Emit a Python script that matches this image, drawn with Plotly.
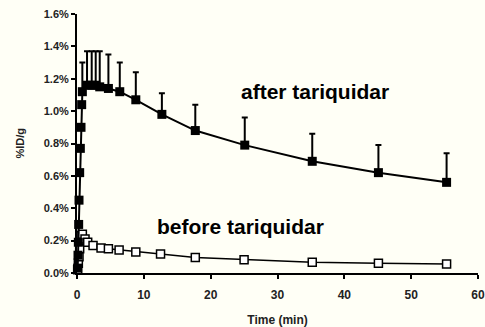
import plotly.graph_objects as go

# After tariquidar (filled squares), %ID/g
after_t = [0.1, 0.15, 0.2, 0.25, 0.3, 0.4, 0.5, 0.6, 0.7, 0.8, 1.5, 2.2, 2.8, 3.4, 4.7, 6.4, 8.8, 12.7, 17.7, 25.1, 35.2, 45.1, 55.3]
after_v = [0.03, 0.11, 0.19, 0.30, 0.45, 0.62, 0.77, 0.90, 1.04, 1.12, 1.16, 1.16, 1.16, 1.15, 1.14, 1.12, 1.07, 0.98, 0.88, 0.79, 0.69, 0.62, 0.56]
after_err = [0, 0, 0, 0, 0, 0, 0, 0, 0, 0.18, 0.21, 0.21, 0.21, 0.22, 0.21, 0.18, 0.17, 0.13, 0.16, 0.17, 0.17, 0.17, 0.18]

# Before tariquidar (open squares)
before_t = [0.1, 0.2, 0.3, 0.4, 0.5, 0.6, 0.8, 1.2, 1.6, 2.4, 3.6, 4.7, 6.3, 8.8, 12.5, 17.7, 25.0, 35.2, 45.1, 55.3]
before_v = [0.02, 0.06, 0.10, 0.15, 0.20, 0.23, 0.24, 0.21, 0.19, 0.17, 0.155, 0.150, 0.142, 0.13, 0.117, 0.096, 0.082, 0.066, 0.060, 0.056]

y_ticks = [0.0, 0.2, 0.4, 0.6, 0.8, 1.0, 1.2, 1.4, 1.6]
x_ticks = [0, 10, 20, 30, 40, 50, 60]

bg = "#FFFFF6"
fig = go.Figure()
fig.add_trace(go.Scatter(
    x=before_t, y=before_v, mode="lines+markers",
    line=dict(color="black", width=1.5),
    marker=dict(symbol="square", size=8, color="white", line=dict(color="black", width=1.5)),
    cliponaxis=False, showlegend=False))
fig.add_trace(go.Scatter(
    x=after_t, y=after_v, mode="lines+markers",
    line=dict(color="black", width=2),
    marker=dict(symbol="square", size=9, color="black"),
    error_y=dict(type="data", array=after_err, arrayminus=[0]*len(after_err),
                 color="black", thickness=2, width=3),
    cliponaxis=False, showlegend=False))

fig.add_annotation(x=35.6, y=1.12, text="<b>after tariquidar</b>", showarrow=False,
                   font=dict(family="Liberation Sans, Arial", size=21, color="black"),
                   xanchor="center", yanchor="middle")
fig.add_annotation(x=24.5, y=0.29, text="<b>before tariquidar</b>", showarrow=False,
                   font=dict(family="Liberation Sans, Arial", size=21, color="black"),
                   xanchor="center", yanchor="middle")
fig.add_annotation(x=0, y=0.5, xref="paper", yref="paper", xanchor="center", yanchor="middle",
                   xshift=-58, text="<b>%ID/g</b>",
                   showarrow=False, textangle=-90,
                   font=dict(family="Liberation Sans, Arial", size=11, color="#222"))

fig.update_layout(
    width=485, height=327,
    margin=dict(l=77, r=7, t=14, b=54, autoexpand=False),
    paper_bgcolor=bg, plot_bgcolor=bg,
    font=dict(family="Liberation Sans, Arial", color="#222"),
)
fig.update_xaxes(range=[0, 60], tickvals=x_ticks, ticktext=["<b>%d</b>" % v for v in x_ticks],
                 automargin=False, ticklabelstandoff=6,
                 showgrid=False, zeroline=False, showline=True, linecolor="black", linewidth=2,
                 ticks="outside", ticklen=4, tickwidth=2, tickcolor="black",
                 tickfont=dict(size=12),
                 title=dict(text="<b>Time (min)</b>", font=dict(size=12), standoff=14))
fig.update_yaxes(range=[0, 1.6], tickvals=y_ticks, ticktext=["<b>%.1f%%</b>" % v for v in y_ticks],
                 automargin=False,
                 showgrid=False, zeroline=False, showline=True, linecolor="black", linewidth=2,
                 ticks="outside", ticklen=4, tickwidth=2, tickcolor="black",
                 tickfont=dict(size=11))

fig.write_html("out.html", config={"displayModeBar": False},
               post_script="document.body.style.margin='0px';document.body.style.background='%s';" % bg)
